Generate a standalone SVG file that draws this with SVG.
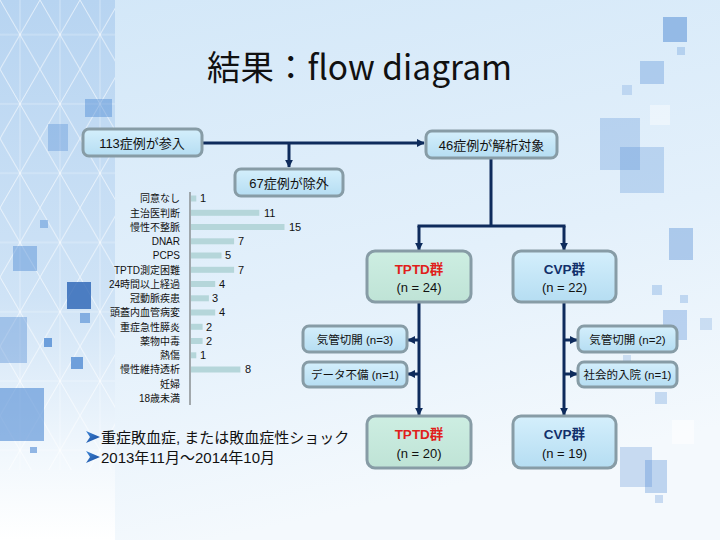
<svg xmlns="http://www.w3.org/2000/svg" width="720" height="540" viewBox="0 0 720 540">
<defs>
<linearGradient id="bg" x1="0" y1="0" x2="0.3" y2="1">
<stop offset="0" stop-color="#d2e7f8"/>
<stop offset="0.6" stop-color="#e3f0fb"/>
<stop offset="1" stop-color="#f4f9fd"/>
</linearGradient>
<linearGradient id="strip" x1="0" y1="0" x2="0" y2="1">
<stop offset="0" stop-color="#b7d4f1"/>
<stop offset="0.55" stop-color="#cfe3f6"/>
<stop offset="0.85" stop-color="#f2f8fd"/>
<stop offset="1" stop-color="#ffffff"/>
</linearGradient>
<pattern id="asa" width="40" height="69.28" patternUnits="userSpaceOnUse">
<path d="M0,0 L40,69.28 M40,0 L0,69.28 M20,0 V69.28 M0,34.64 H40 M0,0 L20,34.64 L40,0 M0,69.28 L20,34.64 L40,69.28" fill="none" stroke="#ffffff" stroke-width="0.8" opacity="0.45"/>
</pattern>
<linearGradient id="boxb" x1="0" y1="0" x2="0" y2="1">
<stop offset="0" stop-color="#d4effc"/>
<stop offset="1" stop-color="#b5ddf2"/>
</linearGradient>
<linearGradient id="boxg" x1="0" y1="0" x2="0" y2="1">
<stop offset="0" stop-color="#cdeee2"/>
<stop offset="1" stop-color="#bfe3d6"/>
</linearGradient>
<linearGradient id="bul" x1="0" y1="0" x2="1" y2="1">
<stop offset="0" stop-color="#3f86d6"/>
<stop offset="1" stop-color="#16489a"/>
</linearGradient>
<marker id="ah" viewBox="0 0 10 10" refX="9" refY="5" markerWidth="8" markerHeight="8" markerUnits="userSpaceOnUse" orient="auto">
<path d="M0,0 L10,5 L0,10 Z" fill="#0e2b5c"/>
</marker>
<style>
.box{stroke:#879ca6;stroke-width:3;fill:url(#boxb)}
.boxg{stroke:#879ca6;stroke-width:3;fill:url(#boxg)}
.t{font-family:"Liberation Sans","Noto Sans CJK JP",sans-serif;fill:#111;text-anchor:middle}
.lab{font-family:"Liberation Sans","Noto Sans CJK JP",sans-serif;font-size:10px;fill:#111;text-anchor:end}
.val{font-family:"Liberation Sans","Noto Sans CJK JP",sans-serif;font-size:11px;fill:#111}
.bar{fill:#b5d6da}
.c{fill:none;stroke:#0e2b5c;stroke-width:3}
.red{fill:#e0201a;font-weight:bold}
.blue{fill:#12306a;font-weight:bold}
.sq{fill:#3f7fcf}
.bt{font-family:"Liberation Sans","Noto Sans CJK JP",sans-serif;font-size:15px;fill:#111}
</style>
</defs>
<rect width="720" height="540" fill="url(#bg)"/>
<rect x="0" y="0" width="115" height="540" fill="url(#strip)"/>
<rect x="0" y="0" width="115" height="470" fill="url(#asa)"/>
<g id="decor">
<rect class="sq" x="85" y="99" width="27" height="18" opacity="0.4"/>
<rect class="sq" x="48" y="124" width="20" height="27" opacity="0.3"/>
<rect class="sq" x="40" y="220" width="8" height="8" opacity="0.4"/>
<rect class="sq" x="13" y="246" width="24" height="25" opacity="0.4"/>
<rect x="67" y="282" width="24" height="27" fill="#1f5bb0" opacity="0.75"/>
<rect class="sq" x="80" y="313" width="10" height="10" opacity="0.55"/>
<rect class="sq" x="0" y="317" width="27" height="46" opacity="0.35"/>
<rect class="sq" x="44" y="338" width="8" height="9" opacity="0.7"/>
<rect class="sq" x="71" y="357" width="12" height="12" opacity="0.7"/>
<rect class="sq" x="0" y="388" width="44" height="53" opacity="0.55"/>
<rect class="sq" x="30" y="447" width="7" height="6" opacity="0.55"/>
<rect class="sq" x="663" y="17" width="24" height="25" opacity="0.45"/>
<rect class="sq" x="677" y="47" width="8" height="8" opacity="0.25"/>
<rect class="sq" x="640" y="61" width="24" height="23" opacity="0.3"/>
<rect class="sq" x="622" y="85" width="10" height="10" opacity="0.2"/>
<rect class="sq" x="600" y="118" width="40" height="52" opacity="0.25"/>
<rect class="sq" x="620" y="147" width="44" height="46" opacity="0.25"/>
<rect x="650" y="105" width="20" height="20" fill="#ffffff" opacity="0.4"/>
<rect class="sq" x="669" y="228" width="24" height="32" opacity="0.35"/>
<rect class="sq" x="652" y="285" width="10" height="10" opacity="0.25"/>
<rect class="sq" x="680" y="295" width="8" height="8" opacity="0.25"/>
<rect class="sq" x="663" y="310" width="24" height="30" opacity="0.3"/>
<rect class="sq" x="700" y="318" width="12" height="12" opacity="0.2"/>
<rect class="sq" x="623" y="355" width="8" height="8" opacity="0.2"/>
<rect class="sq" x="655" y="392" width="12" height="12" opacity="0.25"/>
<rect x="672" y="420" width="22" height="24" fill="#ffffff" opacity="0.5"/>
<rect class="sq" x="620" y="447" width="32" height="40" opacity="0.25"/>
<rect class="sq" x="645" y="460" width="22" height="33" opacity="0.3"/>
<rect class="sq" x="655" y="495" width="8" height="8" opacity="0.25"/>
</g>
<text class="t" x="359.5" y="80" font-size="34" textLength="305" lengthAdjust="spacingAndGlyphs" style="font-family:'Noto Sans CJK JP','Liberation Sans',sans-serif">結果：flow diagram</text>
<g id="connectors">
<path class="c" d="M202,143 H424" marker-end="url(#ah)"/>
<path class="c" d="M289,143 V167" marker-end="url(#ah)"/>
<path class="c" d="M491,158 V226 M417.5,226 H565.5"/>
<path class="c" d="M419,226 V250" marker-end="url(#ah)"/>
<path class="c" d="M564,226 V250" marker-end="url(#ah)"/>
<path class="c" d="M419,302 V415" marker-end="url(#ah)"/>
<path class="c" d="M564,302 V415" marker-end="url(#ah)"/>
<path class="c" d="M419,340 H408" marker-end="url(#ah)"/>
<path class="c" d="M419,374 H408" marker-end="url(#ah)"/>
<path class="c" d="M564,340 H577" marker-end="url(#ah)"/>
<path class="c" d="M564,374 H577" marker-end="url(#ah)"/>
</g>
<g id="n113"><rect class="box" x="83" y="129" width="119" height="27" rx="6"/><text class="t" x="142" y="147.5" font-size="13">113症例が参入</text></g>
<g id="n46"><rect class="box" x="426" y="131" width="131" height="27" rx="6"/><text class="t" x="491.5" y="149.5" font-size="13">46症例が解析対象</text></g>
<g id="n67"><rect class="box" x="235" y="169" width="108" height="27" rx="6"/><text class="t" x="289" y="187.5" font-size="13">67症例が除外</text></g>
<g id="tptd1"><rect class="boxg" x="367" y="251" width="104" height="51" rx="8"/><text class="t red" x="419" y="274" font-size="13.5">TPTD群</text><text class="t" x="419" y="292" font-size="13">(n = 24)</text></g>
<g id="cvp1"><rect class="box" x="513" y="251" width="103" height="51" rx="8"/><text class="t blue" x="564.5" y="274" font-size="13.5">CVP群</text><text class="t" x="564.5" y="292" font-size="13">(n = 22)</text></g>
<g id="l1"><rect class="box" x="303" y="326" width="104" height="26" rx="6"/><text class="t" x="355" y="343.5" font-size="11.5">気管切開 (n=3)</text></g>
<g id="l2"><rect class="box" x="303" y="362" width="104" height="25" rx="6"/><text class="t" x="355" y="378.5" font-size="11.5">データ不備 (n=1)</text></g>
<g id="r1"><rect class="box" x="578" y="326" width="99" height="26" rx="6"/><text class="t" x="627.5" y="343.5" font-size="11.5">気管切開 (n=2)</text></g>
<g id="r2"><rect class="box" x="578" y="362" width="99" height="25" rx="6"/><text class="t" x="627.5" y="378.5" font-size="11.5">社会的入院 (n=1)</text></g>
<g id="tptd2"><rect class="boxg" x="367" y="416" width="104" height="52" rx="8"/><text class="t red" x="419" y="439" font-size="13.5">TPTD群</text><text class="t" x="419" y="458" font-size="13">(n = 20)</text></g>
<g id="cvp2"><rect class="box" x="513" y="416" width="103" height="52" rx="8"/><text class="t blue" x="564.5" y="439" font-size="13.5">CVP群</text><text class="t" x="564.5" y="458" font-size="13">(n = 19)</text></g>
<g id="chart">
<line x1="190" y1="192" x2="190" y2="405" stroke="#8a8f92" stroke-width="1.5"/>
<text class="lab" x="180" y="202">同意なし</text>
<text class="lab" x="180" y="216.5">主治医判断</text>
<text class="lab" x="180" y="230.5">慢性不整脈</text>
<text class="lab" x="180" y="245">DNAR</text>
<text class="lab" x="180" y="259">PCPS</text>
<text class="lab" x="180" y="273.5">TPTD測定困難</text>
<text class="lab" x="180" y="287.5">24時間以上経過</text>
<text class="lab" x="180" y="302">冠動脈疾患</text>
<text class="lab" x="180" y="316">頭蓋内血管病変</text>
<text class="lab" x="180" y="330.5">重症急性膵炎</text>
<text class="lab" x="180" y="344.5">薬物中毒</text>
<text class="lab" x="180" y="359">熱傷</text>
<text class="lab" x="180" y="373">慢性維持透析</text>
<text class="lab" x="180" y="387.5">妊婦</text>
<text class="lab" x="180" y="401.5">18歳未満</text>
<rect class="bar" x="191" y="195.5" width="5.3" height="6"/><text class="val" x="200" y="202">1</text>
<rect class="bar" x="191" y="209.8" width="68.3" height="6"/><text class="val" x="264" y="216.5">11</text>
<rect class="bar" x="191" y="224" width="93.5" height="6"/><text class="val" x="289" y="230.5">15</text>
<rect class="bar" x="191" y="238.3" width="43.1" height="6"/><text class="val" x="238" y="245">7</text>
<rect class="bar" x="191" y="252.5" width="30.5" height="6"/><text class="val" x="225" y="259">5</text>
<rect class="bar" x="191" y="266.8" width="43.1" height="6"/><text class="val" x="238" y="273.5">7</text>
<rect class="bar" x="191" y="281" width="24.2" height="6"/><text class="val" x="219" y="287.5">4</text>
<rect class="bar" x="191" y="295.3" width="17.9" height="6"/><text class="val" x="212" y="302">3</text>
<rect class="bar" x="191" y="309.5" width="24.2" height="6"/><text class="val" x="219" y="316">4</text>
<rect class="bar" x="191" y="323.8" width="11.6" height="6"/><text class="val" x="206" y="330.5">2</text>
<rect class="bar" x="191" y="338" width="11.6" height="6"/><text class="val" x="206" y="344.5">2</text>
<rect class="bar" x="191" y="352.3" width="5.3" height="6"/><text class="val" x="200" y="359">1</text>
<rect class="bar" x="191" y="366.5" width="49.4" height="6"/><text class="val" x="245" y="373">8</text>
</g>
<g id="bullets">
<polygon points="86,431 100,437 86,443 90,437" fill="url(#bul)"/>
<text class="bt" x="101" y="443">重症敗血症, または敗血症性ショック</text>
<polygon points="86,451 100,457 86,463 90,457" fill="url(#bul)"/>
<text class="bt" x="101" y="463">2013年11月～2014年10月</text>
</g>
</svg>
